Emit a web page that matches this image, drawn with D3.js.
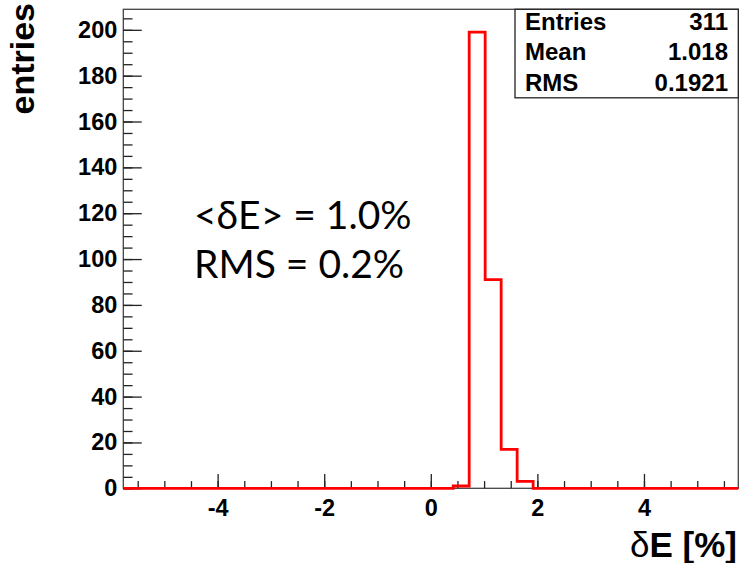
<!DOCTYPE html>
<html>
<head>
<meta charset="utf-8">
<script src="https://cdn.jsdelivr.net/npm/d3@7"></script>
<style>
  body { margin: 0; background: #fff; }
  .tick text { font-family: "Liberation Sans", Arial, sans-serif; font-weight: bold; }
</style>
</head>
<body>
<div id="chart"></div>
<script>
// histogram bins (dE in %), only non-empty ones
const binLow = [0.42, 0.72, 1.02, 1.32, 1.62];
const binWidth = 0.3;
const counts = [1, 199, 91, 17, 3];
const xRange = [-5.77, 5.77];
const xMajor = [-4, -2, 0, 2, 4];
const yMajor = [0, 20, 40, 60, 80, 100, 120, 140, 160, 180, 200];
const stats = [["Entries", "311"], ["Mean", "1.018"], ["RMS", "0.1921"]];
const notes = ["<\u03B4E> = 1.0%", "RMS = 0.2%"];

const svgWidth = 739, svgHeight = 563;
const margin = { top: 9.3, right: 0.7, bottom: 74.7, left: 123.3 };

const svg = d3.select("#chart").append("svg")
    .attr("width", svgWidth)
    .attr("height", svgHeight);

const x = d3.scaleLinear()
    .domain(xRange)
    .range([margin.left, svgWidth - margin.right]);

const y = d3.scaleLinear()
    .domain([0, d3.max(counts) * 1.05])
    .range([svgHeight - margin.bottom, margin.top]);

const plotW = x.range()[1] - x.range()[0];
const plotH = y.range()[0] - y.range()[1];

// frame
svg.append("rect")
    .attr("x", x.range()[0])
    .attr("y", y.range()[1])
    .attr("width", plotW)
    .attr("height", plotH)
    .attr("fill", "none")
    .attr("stroke", "#444")
    .attr("stroke-width", 1.3);

// y axis: minor then major ticks, pointing inward
const yMinor = d3.range(0, 209, 5);
svg.append("g")
    .attr("transform", `translate(${x.range()[0]},0)`)
    .call(d3.axisLeft(y).tickValues(yMinor).tickSize(-plotW * 0.015).tickFormat(""))
    .call(g => g.select(".domain").remove())
    .call(g => g.selectAll("line").attr("stroke", "#222").attr("stroke-width", 1.3));

svg.append("g")
    .attr("transform", `translate(${x.range()[0]},0)`)
    .call(d3.axisLeft(y).tickValues(yMajor).tickSize(-plotW * 0.03).tickPadding(6))
    .call(g => g.select(".domain").remove())
    .call(g => g.selectAll("line").attr("stroke", "#222").attr("stroke-width", 1.3))
    .call(g => g.selectAll("text").attr("font-size", 23.5).attr("fill", "#000"));

// x axis
const xMinor = d3.range(-5.5, 5.6, 0.5);
svg.append("g")
    .attr("transform", `translate(0,${y.range()[0]})`)
    .call(d3.axisBottom(x).tickValues(xMinor).tickSize(-plotH * 0.015).tickFormat(""))
    .call(g => g.select(".domain").remove())
    .call(g => g.selectAll("line").attr("stroke", "#222").attr("stroke-width", 1.3));

svg.append("g")
    .attr("transform", `translate(0,${y.range()[0]})`)
    .call(d3.axisBottom(x).tickValues(xMajor).tickSize(-plotH * 0.03).tickPadding(11)
        .tickFormat(d => String(d)))
    .call(g => g.select(".domain").remove())
    .call(g => g.selectAll("line").attr("stroke", "#222").attr("stroke-width", 1.3))
    .call(g => g.selectAll("text").attr("font-size", 23.5).attr("fill", "#000"));

// histogram outline
const pts = [[xRange[0], 0]];
binLow.forEach((b, i) => pts.push([b, counts[i]]));
pts.push([binLow[binLow.length - 1] + binWidth, 0]);
pts.push([xRange[1], 0]);

svg.append("path")
    .datum(pts)
    .attr("fill", "none")
    .attr("stroke", "#ff0000")
    .attr("stroke-width", 2.8)
    .attr("d", d3.line().x(d => x(d[0])).y(d => y(d[1])).curve(d3.curveStepAfter));

// axis titles
svg.append("text")
    .attr("transform", `translate(34,3) rotate(-90)`)
    .attr("text-anchor", "end")
    .style("font", "bold 34px 'Liberation Sans', Arial, sans-serif")
    .text("entries");

const xt = svg.append("text")
    .attr("x", 737)
    .attr("y", 557)
    .attr("text-anchor", "end")
    .style("font", "bold 35px 'Liberation Sans', Arial, sans-serif");
xt.append("tspan").style("font-weight", "normal").text("\u03B4");
xt.append("tspan").text("E [%]");

// stats box
const boxX = 515, boxY = margin.top, boxW = x.range()[1] - 515, boxH = 88.5;
svg.append("rect")
    .attr("x", boxX).attr("y", boxY)
    .attr("width", boxW).attr("height", boxH)
    .attr("fill", "#fff")
    .attr("stroke", "#222")
    .attr("stroke-width", 1.3);

const rows = svg.append("g")
    .style("font", "bold 24px 'Liberation Sans', Arial, sans-serif")
    .selectAll("g")
    .data(stats)
    .join("g")
    .attr("transform", (d, i) => `translate(0,${29.5 + i * 30.5})`);
rows.append("text").attr("x", 525).text(d => d[0]);
rows.append("text").attr("x", 728).attr("text-anchor", "end").text(d => d[1]);

// annotation
svg.append("g")
    .style("font", "39px Lato, 'Open Sans', sans-serif")
    .selectAll("text")
    .data(notes)
    .join("text")
    .attr("x", 194)
    .attr("y", (d, i) => 229 + i * 49)
    .text(d => d);
</script>
</body>
</html>
